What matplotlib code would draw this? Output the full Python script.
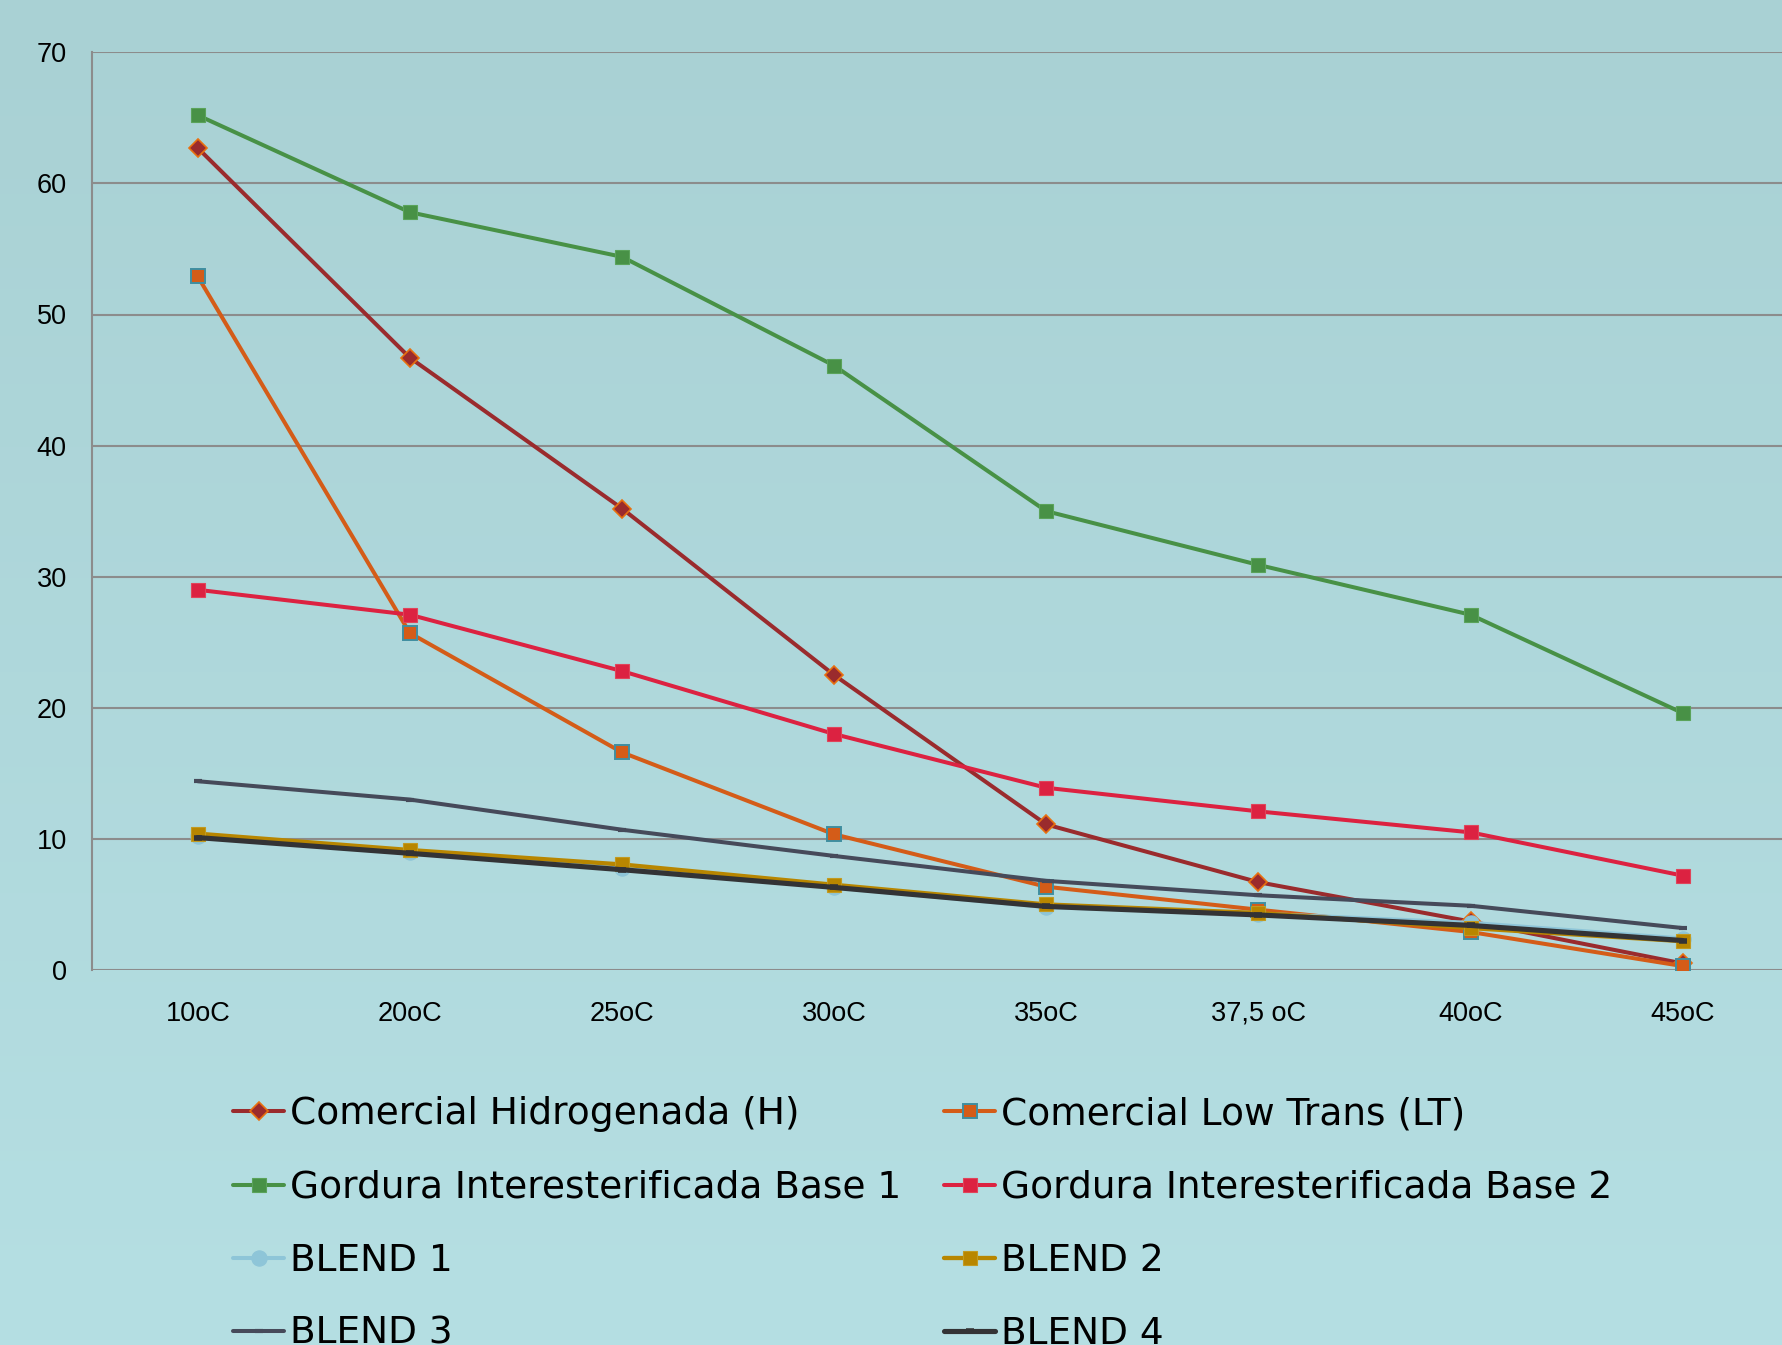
import numpy as np
import matplotlib
matplotlib.use("Agg")
import matplotlib.pyplot as plt
from matplotlib.colors import LinearSegmentedColormap

# Temperatures (categories) and solid fat content of each sample
temperaturas = ["10oC", "20oC", "25oC", "30oC", "35oC", "37,5 oC", "40oC", "45oC"]

hidrogenada = [62.7, 46.7, 35.2, 22.5, 11.1, 6.7, 3.7, 0.5]
low_trans = [52.9, 25.7, 16.6, 10.35, 6.35, 4.6, 2.9, 0.3]
base1 = [65.2, 57.8, 54.4, 46.1, 35.0, 30.9, 27.1, 19.6]
base2 = [29.0, 27.1, 22.8, 18.0, 13.9, 12.1, 10.5, 7.2]
blend1 = [10.2, 9.0, 7.8, 6.3, 4.8, 4.3, 3.6, 2.4]
blend2 = [10.4, 9.15, 8.05, 6.5, 5.0, 4.35, 3.2, 2.2]
blend3 = [14.4, 13.0, 10.7, 8.7, 6.8, 5.7, 4.9, 3.2]
blend4 = [10.1, 8.9, 7.65, 6.3, 4.85, 4.2, 3.4, 2.25]

y_ticks = [0, 10, 20, 30, 40, 50, 60, 70]

W, H = 1782, 1345
fig = plt.figure(figsize=(W / 100, H / 100), dpi=100)

# soft vertical gradient behind everything
bg = fig.add_axes([0, 0, 1, 1], zorder=-10)
grad = LinearSegmentedColormap.from_list("bg", ["#a9d1d4", "#b5dfe3"])
bg.imshow(np.linspace(0, 1, 256).reshape(-1, 1), aspect="auto", cmap=grad,
          extent=[0, 1, 0, 1], origin="upper")
bg.set_axis_off()

ax = fig.add_axes([91.7 / W, 1 - 970 / H, 1697 / W, (970 - 52.3) / H])
ax.set_facecolor("none")

x = np.arange(len(temperaturas))

series = [
    (hidrogenada, "Comercial Hidrogenada (H)",
     dict(color="#9a2b2d", lw=2.9, marker="D", ms=9, mfc="#9a2b2d", mec="#e8700f", mew=1.2)),
    (low_trans, "Comercial Low Trans (LT)",
     dict(color="#d45c18", lw=2.9, marker="s", ms=10, mfc="#d45c18", mec="#3f8ea0", mew=1.4)),
    (base1, "Gordura Interesterificada Base 1",
     dict(color="#489146", lw=2.9, marker="s", ms=10.5, mfc="#489146", mec="#5aa35a", mew=0.8)),
    (base2, "Gordura Interesterificada Base 2",
     dict(color="#dc2241", lw=2.9, marker="s", ms=10.5, mfc="#dc2241", mec="#e0445a", mew=0.8)),
    (blend1, "BLEND 1",
     dict(color="#8ec5d8", lw=2.9, marker="o", ms=11, mfc="#8ec5d8", mec="#8ec5d8", mew=0.8)),
    (blend2, "BLEND 2",
     dict(color="#b88600", lw=3.1, marker="s", ms=10.5, mfc="#b88600", mec="#c29a20", mew=0.8)),
    (blend3, "BLEND 3",
     dict(color="#464a5a", lw=2.9, marker="_", ms=6, mec="#464a5a", mew=3)),
    (blend4, "BLEND 4",
     dict(color="#333335", lw=3.7, marker="_", ms=6, mec="#333335", mew=4)),
]

handles = {}
for i, (vals, label, st) in enumerate(series):
    h, = ax.plot(x, vals, label=label, solid_capstyle="round", zorder=3 + i, **st)
    handles[label] = h

ax.set_xlim(-0.5, len(temperaturas) - 0.5)
ax.set_ylim(0, 70)
ax.set_yticks(y_ticks)
ax.set_xticks(x)
ax.set_xticklabels(temperaturas)
ax.grid(axis="y", color="#8c8c8c", lw=1.5, zorder=1)
ax.set_axisbelow(True)
for s in ["top", "right", "bottom"]:
    ax.spines[s].set_visible(False)
ax.spines["left"].set_color("#8c8c8c")
ax.spines["left"].set_linewidth(1.5)
ax.tick_params(axis="both", length=0, labelsize=19.5, colors="black")
ax.tick_params(axis="y", pad=18)
ax.tick_params(axis="x", pad=22)
for t in ax.get_xticklabels() + ax.get_yticklabels():
    t.set_fontfamily("Liberation Sans")

# legend: two columns, filled row by row
order = ["Comercial Hidrogenada (H)", "Gordura Interesterificada Base 1", "BLEND 1", "BLEND 3",
         "Comercial Low Trans (LT)", "Gordura Interesterificada Base 2", "BLEND 2", "BLEND 4"]
leg = fig.legend([handles[k] for k in order], order, ncol=2, frameon=False,
                 loc="upper left", bbox_to_anchor=(233 / W, 1 - 1096.5 / H),
                 prop=dict(family="DejaVu Sans", size=27), handlelength=1.36,
                 handletextpad=0.15, labelspacing=0.99, columnspacing=1.15,
                 borderpad=0, borderaxespad=0, numpoints=1)

fig.savefig("out.png", dpi=100)
